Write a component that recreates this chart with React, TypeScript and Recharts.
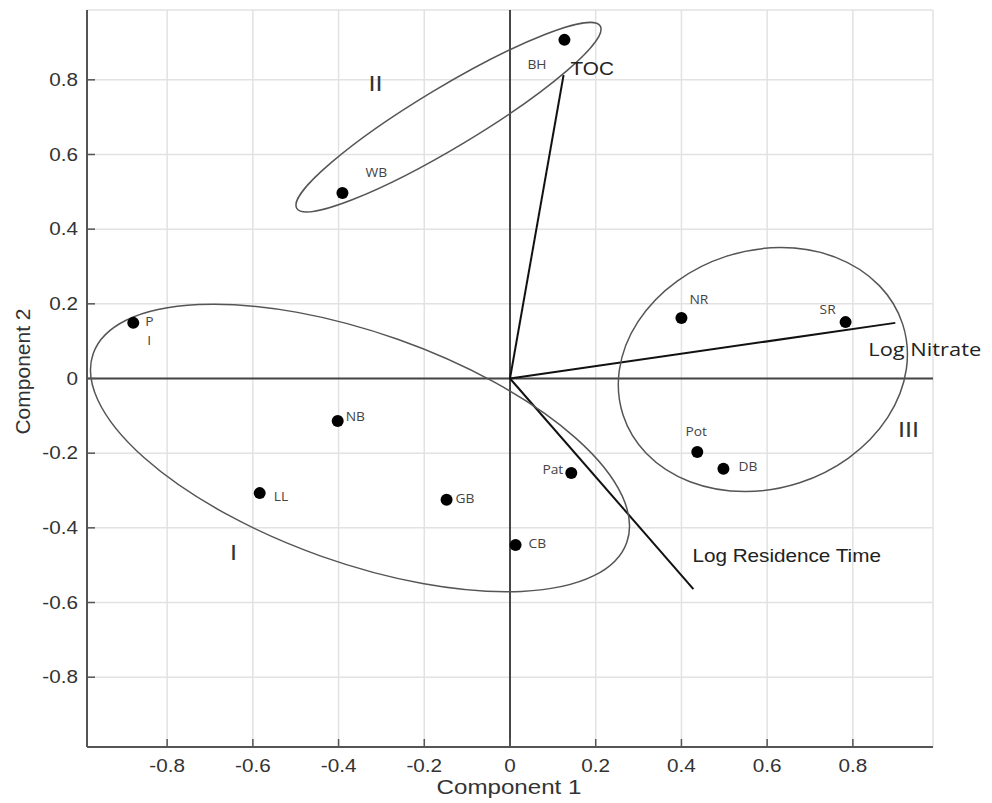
import React from 'react';
import { ScatterChart, Scatter, XAxis, YAxis, CartesianGrid, ReferenceLine } from 'recharts';

// ---- data ----
const SITES = ['BH', 'WB', 'P', 'NB', 'LL', 'GB', 'CB', 'Pat', 'NR', 'SR', 'Pot', 'DB'];
const COMP1 = [0.127, -0.391, -0.879, -0.402, -0.584, -0.148, 0.013, 0.143, 0.4, 0.783, 0.437, 0.498];
const COMP2 = [0.907, 0.497, 0.149, -0.114, -0.307, -0.325, -0.446, -0.253, 0.162, 0.151, -0.197, -0.242];

const VECTOR_NAMES = ['TOC', 'Log Nitrate', 'Log Residence Time'];
const VECTOR_X = [0.125, 0.899, 0.428];
const VECTOR_Y = [0.813, 0.149, -0.564];

const GROUP_NAMES = ['I', 'II', 'III'];
const GROUP_X = [-0.645, -0.314, 0.93];
const GROUP_Y = [-0.465, 0.792, -0.135];

const ELLIPSE_NAMES = ['I', 'II', 'III'];
const ELLIPSE_X = [-0.35, -0.1435, 0.59];
const ELLIPSE_Y = [-0.186, 0.7, 0.024];

const TICKS = [-0.8, -0.6, -0.4, -0.2, 0, 0.2, 0.4, 0.6, 0.8];
const DOMAIN: [number, number] = [-0.987, 0.987];

// ---- annotation geometry / styles (pixels) ----
const ELLIPSE_GEOM: Record<string, { rx: number; ry: number; rot: number }> = {
  I: { rx: 283, ry: 115, rot: 19.5 },
  II: { rx: 177, ry: 30, rot: -31 },
  III: { rx: 147, ry: 119, rot: -18 },
};

const SITE_LABEL_POS: Record<string, { dx: number; dy: number; anchor: string }> = {
  BH: { dx: -37, dy: 25, anchor: 'start' },
  WB: { dx: 23, dy: -20, anchor: 'start' },
  P: { dx: 12, dy: -1, anchor: 'start' },
  NB: { dx: 8, dy: -4, anchor: 'start' },
  LL: { dx: 14, dy: 4, anchor: 'start' },
  GB: { dx: 9, dy: -1, anchor: 'start' },
  CB: { dx: 13, dy: -1, anchor: 'start' },
  Pat: { dx: -8, dy: -3, anchor: 'end' },
  NR: { dx: 8, dy: -18, anchor: 'start' },
  SR: { dx: -26, dy: -12, anchor: 'start' },
  Pot: { dx: -1, dy: -20, anchor: 'middle' },
  DB: { dx: 15, dy: -2, anchor: 'start' },
};

const VECTOR_LABEL_POS: Record<string, { dx: number; dy: number; size: number; font: string }> = {
  TOC: { dx: 7, dy: 0, size: 18, font: '"Liberation Sans", Arial, sans-serif' },
  'Log Nitrate': { dx: -27, dy: 33, size: 19, font: '"Open Sans", "Noto Sans", sans-serif' },
  'Log Residence Time': { dx: -1, dy: -27, size: 18, font: '"Liberation Sans", Arial, sans-serif' },
};

const SANS = '"Liberation Sans", Arial, Helvetica, sans-serif';
const LABEL_FONT = '"Open Sans", "Noto Sans", sans-serif';
const STRETCH = 1.15;

const siteData = SITES.map((name, i) => ({ name, x: COMP1[i], y: COMP2[i] }));
const vectorData = VECTOR_NAMES.map((name, i) => ({ name, x: VECTOR_X[i], y: VECTOR_Y[i] }));
const groupData = GROUP_NAMES.map((name, i) => ({ name, x: GROUP_X[i], y: GROUP_Y[i] }));
const ellipseData = ELLIPSE_NAMES.map((name, i) => ({ name, x: ELLIPSE_X[i], y: ELLIPSE_Y[i] }));

const fmt = (v: number) => (v === 0 ? '0' : String(v));

const XTick = (props: any) => {
  const { x, y, payload } = props;
  return (
    <g>
      <line x1={x} y1={y} x2={x} y2={y - 8} stroke="#555" strokeWidth={1.5} />
      <text
        transform={`translate(${x},${y + 25}) scale(${STRETCH},1)`}
        textAnchor="middle"
        fontSize={18}
        fill="#333"
        fontFamily={SANS}
      >
        {fmt(payload.value)}
      </text>
    </g>
  );
};

const YTick = (props: any) => {
  const { x, y, payload } = props;
  return (
    <g>
      <line x1={x} y1={y} x2={x + 8} y2={y} stroke="#555" strokeWidth={1.5} />
      <text
        transform={`translate(${x - 9},${y}) scale(${STRETCH},1)`}
        textAnchor="end"
        dy="0.35em"
        fontSize={18}
        fill="#333"
        fontFamily={SANS}
      >
        {fmt(payload.value)}
      </text>
    </g>
  );
};

const DotShape = (p: any) => <circle cx={p.cx} cy={p.cy} r={6} fill="#000" />;

const SiteLabelShape = (p: any) => {
  const name = p.payload.name;
  const pos = SITE_LABEL_POS[name];
  const tx = p.cx + pos.dx;
  const ty = p.cy + pos.dy;
  if (name === 'P') {
    return (
      <g>
        <text transform={`translate(${tx},${ty}) scale(${STRETCH},1)`} dy="0.35em" fontSize={12} fill="#444" fontFamily={LABEL_FONT}>P</text>
        <text transform={`translate(${tx + 2},${ty + 19}) scale(${STRETCH},1)`} dy="0.35em" fontSize={12} fill="#444" fontFamily={LABEL_FONT}>I</text>
      </g>
    );
  }
  return (
    <text
      transform={`translate(${tx},${ty}) scale(${STRETCH},1)`}
      dy="0.35em"
      textAnchor={pos.anchor as any}
      fontSize={12}
      fill="#444"
      fontFamily={LABEL_FONT}
    >
      {name}
    </text>
  );
};

const VectorLabelShape = (p: any) => {
  const pos = VECTOR_LABEL_POS[p.payload.name];
  return (
    <text
      transform={`translate(${p.cx + pos.dx},${p.cy + pos.dy}) scale(${STRETCH},1)`}
      fontSize={pos.size}
      fill="#222"
      fontFamily={pos.font}
    >
      {p.payload.name}
    </text>
  );
};

const GroupLabelShape = (p: any) => (
  <text
    transform={`translate(${p.cx},${p.cy + 8}) scale(${STRETCH},1)`}
    textAnchor="middle"
    fontSize={22}
    fill="#333"
    fontFamily={SANS}
  >
    {p.payload.name}
  </text>
);

const EllipseShape = (p: any) => {
  const g = ELLIPSE_GEOM[p.payload.name];
  return (
    <ellipse
      cx={p.cx}
      cy={p.cy}
      rx={g.rx}
      ry={g.ry}
      transform={`rotate(${g.rot} ${p.cx} ${p.cy})`}
      fill="none"
      stroke="#555"
      strokeWidth={1.5}
    />
  );
};

const XLabel = (props: any) => {
  const vb = props.viewBox || { x: 79, y: 739, width: 846, height: 40 };
  const cx = vb.x + vb.width / 2 - 1;
  const y = vb.y + 47;
  return (
    <text transform={`translate(${cx},${y}) scale(${STRETCH},1)`} textAnchor="middle" fontSize={21} fill="#333" fontFamily={SANS}>
      Component 1
    </text>
  );
};

const YLabel = (props: any) => {
  const vb = props.viewBox || { x: 19, y: 2, width: 60, height: 737 };
  const x = vb.x + 3;
  const y = vb.y + vb.height / 2 - 7;
  return (
    <text transform={`translate(${x},${y}) rotate(-90)`} textAnchor="middle" fontSize={21} fill="#333" fontFamily={SANS}>
      Component 2
    </text>
  );
};

export default function App() {
  return (
    <div style={{ width: 984, height: 790, background: '#fff' }}>
      <style>{`html, body { overflow: hidden; }`}</style>
      <ScatterChart width={984} height={790} margin={{ top: 2, right: 59, bottom: 11, left: 19 }}>
        <CartesianGrid stroke="#e2e2e2" strokeWidth={1.5} />
        <XAxis
          type="number"
          dataKey="x"
          domain={DOMAIN}
          ticks={TICKS}
          height={40}
          tickSize={0}
          tickMargin={0}
          tick={<XTick />}
          tickLine={false}
          axisLine={{ stroke: '#555', strokeWidth: 2 }}
          label={<XLabel />}
        />
        <YAxis
          type="number"
          dataKey="y"
          domain={DOMAIN}
          ticks={TICKS}
          width={60}
          tickSize={0}
          tickMargin={0}
          tick={<YTick />}
          tickLine={false}
          axisLine={{ stroke: '#555', strokeWidth: 2 }}
          label={<YLabel />}
        />
        <Scatter data={ellipseData} shape={<EllipseShape />} isAnimationActive={false} />
        <ReferenceLine y={0} stroke="#444" strokeWidth={2} />
        <ReferenceLine x={0} stroke="#111" strokeWidth={1.5} />
        {vectorData.map((v) => (
          <ReferenceLine
            key={v.name}
            segment={[{ x: 0, y: 0 }, { x: v.x, y: v.y }]}
            stroke="#111"
            strokeWidth={2}
            ifOverflow="visible"
          />
        ))}
        <Scatter data={siteData} shape={<DotShape />} isAnimationActive={false} />
        <Scatter data={siteData} shape={<SiteLabelShape />} isAnimationActive={false} />
        <Scatter data={vectorData} shape={<VectorLabelShape />} isAnimationActive={false} />
        <Scatter data={groupData} shape={<GroupLabelShape />} isAnimationActive={false} />
      </ScatterChart>
    </div>
  );
}
